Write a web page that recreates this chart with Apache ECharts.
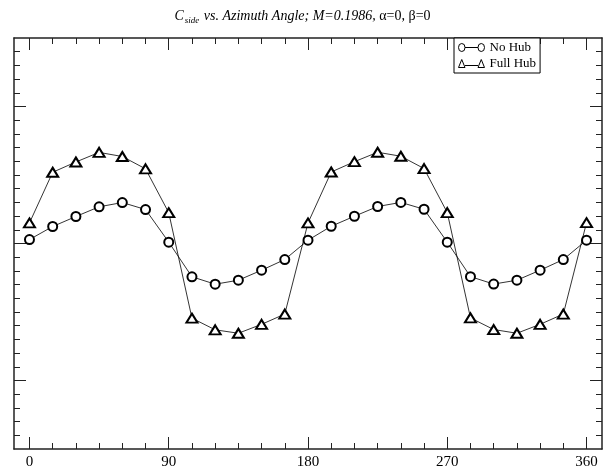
<!DOCTYPE html>
<html><head><meta charset="utf-8">
<script src="https://cdn.jsdelivr.net/npm/echarts@6/dist/echarts.min.js"></script>
<style>html,body{margin:0;padding:0;background:#fff}#c{width:605px;height:472px}</style>
</head><body><div id="c"></div>
<script>
// ---- data ----
const angles = [0,15,30,45,60,75,90,105,120,135,150,165,180,195,210,225,240,255,270,285,300,315,330,345,360];
const noHub = [0.29,1.24,1.97,2.68,2.99,2.48,0.10,-2.43,-2.97,-2.68,-1.95,-1.17,0.24,1.26,1.99,2.70,3.00,2.50,0.10,-2.42,-2.96,-2.68,-1.95,-1.17,0.24];
const fullHub = [1.50,5.20,5.95,6.65,6.35,5.45,2.25,-5.45,-6.30,-6.55,-5.90,-5.15,1.50,5.22,5.97,6.66,6.37,5.47,2.26,-5.43,-6.28,-6.55,-5.90,-5.15,1.52];
const xMajorTicks = [0,90,180,270,360];
const xMinorTicks = [0,15,30,45,60,75,90,105,120,135,150,165,180,195,210,225,240,255,270,285,300,315,330,345,360];
const yMajorTicks = [-10,0,10];
const yMinorTicks = [-14,-13,-12,-11,-10,-9,-8,-7,-6,-5,-4,-3,-2,-1,0,1,2,3,4,5,6,7,8,9,10,11,12,13,14];
const seriesNames = ['No Hub','Full Hub'];

const chart = echarts.init(document.getElementById('c'), null, {renderer:'canvas'});
const serif = 'Liberation Serif';
const axisCol = '#222';
function xAx(pos, ticks, len, line, labels){
  return {type:'value', position:pos, min:-10, max:370, show:true,
    axisLine:{show:line, onZero:false, lineStyle:{color:axisCol,width:1.5}},
    axisTick:{show:true, inside:true, length:len, customValues:ticks, lineStyle:{color:axisCol,width:1}},
    axisLabel:{show:labels, customValues:xMajorTicks, fontFamily:serif, fontSize:15, color:'#000', margin:6},
    splitLine:{show:false}};
}
function yAx(pos, ticks, len, line){
  return {type:'value', position:pos, min:-15, max:15, show:true,
    axisLine:{show:line, onZero:false, lineStyle:{color:axisCol,width:1.5}},
    axisTick:{show:true, inside:true, length:len, customValues:ticks, lineStyle:{color:axisCol,width:1}},
    axisLabel:{show:false}, splitLine:{show:false}};
}
const circPath = 'path://M1,4A3,3 0 1,1 7,4A3,3 0 1,1 1,4M7,4L19,4M19,4A3,3 0 1,1 25,4A3,3 0 1,1 19,4';
const triPath = 'path://M1,7.5L4,1.5L7,7.5ZM7,6L19,6M19,7.5L22,1.5L25,7.5Z';
chart.setOption({
  animation:false,
  backgroundColor:'#fff',
  title:{left:'center', top:2,
    text:'{i|C}{s|side}{i| vs. Azimuth Angle; M=0.1986, }{n|\u03b1=0, \u03b2=0}',
    textStyle:{rich:{
      i:{fontFamily:serif, fontStyle:'italic', fontWeight:'normal', fontSize:14, color:'#000'},
      s:{fontFamily:serif, fontStyle:'italic', fontWeight:'normal', fontSize:9, color:'#000', padding:[9,1,0,1]},
      n:{fontFamily:serif, fontWeight:'normal', fontSize:14, color:'#000'}}}},
  legend:{left:454, top:38, orient:'vertical', backgroundColor:'#fff', borderColor:'#000', borderWidth:1,
    padding:[3,4,3,4], itemGap:3, itemWidth:26, itemHeight:8, symbolKeepAspect:false,
    textStyle:{fontFamily:serif, fontSize:13, color:'#000'},
    itemStyle:{color:'rgba(0,0,0,0)', borderColor:'#000', borderWidth:1},
    data:[{name:seriesNames[0], icon:circPath},{name:seriesNames[1], icon:triPath}]},
  grid:{left:14, right:3, top:38, bottom:23, outerBoundsMode:'none'},
  xAxis:[xAx('bottom', xMajorTicks, 12, true, true), xAx('bottom', xMinorTicks, 6, false, false),
         xAx('top', xMajorTicks, 12, true, false), xAx('top', xMinorTicks, 6, false, false)],
  yAxis:[yAx('left', yMajorTicks, 12, true), yAx('left', yMinorTicks, 6, false),
         yAx('right', yMajorTicks, 12, true), yAx('right', yMinorTicks, 6, false)],
  series:[
    {type:'line', name:seriesNames[0], data:angles.map((a,i)=>[a,noHub[i]]), symbol:'emptyCircle', symbolSize:9,
     lineStyle:{color:'#000',width:0.8}, itemStyle:{color:'#000',borderWidth:0.8}, z:3},
    {type:'line', name:seriesNames[1], data:angles.map((a,i)=>[a,fullHub[i]]), symbol:'emptyTriangle', symbolSize:[11,9],
     lineStyle:{color:'#000',width:0.8}, itemStyle:{color:'#000',borderWidth:0.6}, z:2}
  ]
});
</script></body></html>
